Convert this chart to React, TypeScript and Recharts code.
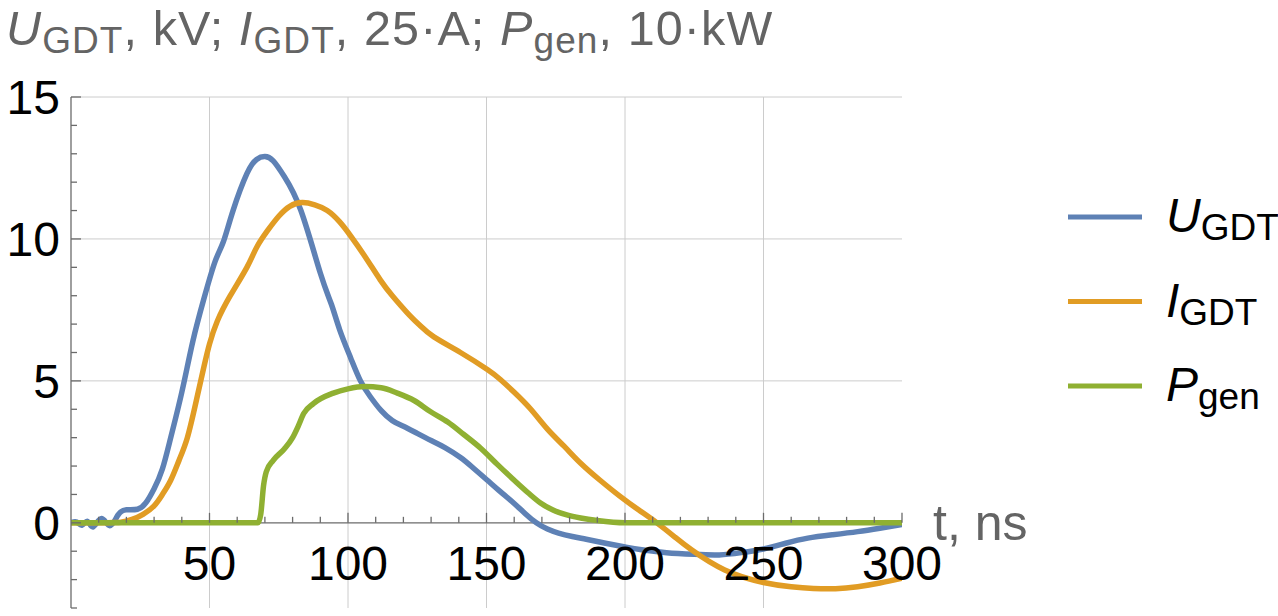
import React from 'react';
import { LineChart, Line, XAxis, YAxis, ReferenceLine } from 'recharts';

// U_GDT, kV
const uTime = [0, 2, 4, 6, 8, 11, 14, 17, 20, 24, 27, 30, 33, 36, 40, 44, 48, 52, 55, 58.5, 63.5, 67, 70, 73, 77, 83, 90, 94, 97, 101, 104.5, 108, 112, 116, 120, 125, 130, 135, 140.6, 145, 150.3, 155, 159.8, 164, 168, 172, 176, 181, 186, 193, 200, 206, 215, 225, 234, 242, 250, 258, 266, 275, 284, 292, 300];
const uValues = [0, 0.03, -0.08, 0.05, -0.14, 0.15, -0.1, 0.28, 0.46, 0.48, 0.7, 1.2, 1.9, 3.0, 4.6, 6.4, 7.9, 9.2, 9.9, 11.0, 12.3, 12.8, 12.9, 12.75, 12.2, 11.0, 8.8, 7.7, 6.8, 5.8, 5.0, 4.45, 3.95, 3.6, 3.4, 3.15, 2.9, 2.65, 2.3, 1.95, 1.5, 1.1, 0.7, 0.32, 0.0, -0.22, -0.36, -0.48, -0.58, -0.72, -0.85, -0.95, -1.05, -1.11, -1.13, -1.05, -0.92, -0.72, -0.54, -0.42, -0.31, -0.19, -0.06];

// I_GDT, 25 A
const iTime = [0, 10, 15, 18, 22, 26, 30, 33, 36, 39, 42, 45, 48, 50, 52.8, 57.5, 63.5, 67, 71, 75, 79, 83.5, 88, 92.5, 97, 101, 106, 111.7, 116, 121.4, 126, 131, 140.6, 150.3, 155, 160, 166, 172, 178, 184, 191, 198, 205, 211.5, 218, 224, 236, 250, 260, 268, 276, 284, 292, 300];
const iValues = [0, 0, 0.01, 0.02, 0.12, 0.3, 0.6, 1.0, 1.5, 2.2, 3.0, 4.2, 5.5, 6.3, 7.1, 8.0, 9.0, 9.7, 10.3, 10.8, 11.15, 11.28, 11.2, 11.0, 10.6, 10.1, 9.4, 8.55, 8.0, 7.4, 6.95, 6.55, 6.0, 5.4, 5.05, 4.6, 4.0, 3.3, 2.7, 2.1, 1.5, 0.95, 0.45, 0, -0.5, -0.95, -1.66, -2.1, -2.25, -2.31, -2.32, -2.25, -2.12, -1.95];

// P_gen, 10 kW
const pTime = [0, 67.5, 68.5, 69.5, 70.5, 73, 77, 80, 82, 84, 87.5, 94.7, 100, 106, 112, 117.8, 124, 129.7, 136, 141.7, 148, 154, 160, 165, 169.5, 174, 179, 184, 190, 200, 300];
const pValues = [0, 0, 0.3, 1.3, 1.8, 2.2, 2.6, 3.0, 3.4, 3.85, 4.2, 4.57, 4.72, 4.8, 4.76, 4.57, 4.3, 3.92, 3.55, 3.12, 2.62, 2.05, 1.5, 1.06, 0.7, 0.45, 0.28, 0.17, 0.08, 0, 0];

const xTicks = [10, 20, 30, 40, 50, 60, 70, 80, 90, 100, 110, 120, 130, 140, 150, 160, 170, 180, 190, 200, 210, 220, 230, 240, 250, 260, 270, 280, 290, 300];
const yTicks = [-3, -2, -1, 0, 1, 2, 3, 4, 5, 6, 7, 8, 9, 10, 11, 12, 13, 14, 15];
const xGrid = [50, 100, 150, 200, 250];
const yGrid = [5, 10, 15];

const series = [
  { key: 'u', main: 'U', sub: 'GDT', color: '#5E81B5', curve: 'natural', t: uTime, v: uValues },
  { key: 'i', main: 'I', sub: 'GDT', color: '#E19C24', curve: 'natural', t: iTime, v: iValues },
  { key: 'p', main: 'P', sub: 'gen', color: '#8FB032', curve: 'monotone', t: pTime, v: pValues },
];

const W = 1278;
const H = 616;
const PLOT_LEFT = 71;
const PLOT_TOP = 97;
const X_AXIS_H = 8;
const PLOT_H = H - PLOT_TOP - X_AXIS_H;
const Y_MIN = -3;
const Y_MAX = 15;
const ZERO_Y = PLOT_TOP + (PLOT_H * Y_MAX) / (Y_MAX - Y_MIN);

const FONT = '"Liberation Sans", Arial, sans-serif';
const AXIS = '#6b6b6b';
const GRID = '#cccccc';
const LABEL_GRAY = '#646464';

const XTick = (props: any) => {
  const { x, payload } = props;
  const major = payload.value % 50 === 0;
  return (
    <g>
      <line x1={x} x2={x} y1={ZERO_Y} y2={ZERO_Y - (major ? 10 : 6)} stroke={AXIS} strokeWidth={1.3} />
      {major && (
        <text x={x} y={ZERO_Y + 57} textAnchor="middle" fontSize={48} fontFamily={FONT} fill="#000">
          {payload.value}
        </text>
      )}
    </g>
  );
};

const YTick = (props: any) => {
  const { y, payload } = props;
  const major = payload.value % 5 === 0;
  const labelled = major && payload.value >= 0;
  return (
    <g>
      <line x1={PLOT_LEFT} x2={PLOT_LEFT + (major ? 10 : 6)} y1={y} y2={y} stroke={AXIS} strokeWidth={1.3} />
      {labelled && (
        <text x={60} y={y} dy={17} textAnchor="end" fontSize={48} fontFamily={FONT} fill="#000">
          {payload.value}
        </text>
      )}
    </g>
  );
};

const App: React.FC = () => {
  return (
    <div style={{ position: 'absolute', left: 0, top: 0, width: W, height: H, background: '#fff' }}>
      <LineChart width={W} height={H} margin={{ top: PLOT_TOP, right: 376, bottom: 0, left: 0 }}>
        <XAxis
          type="number"
          dataKey="t"
          domain={[0, 300]}
          ticks={xTicks}
          height={X_AXIS_H}
          axisLine={false}
          tickLine={false}
          tick={<XTick />}
          allowDataOverflow
          interval={0}
        />
        <YAxis
          type="number"
          domain={[Y_MIN, Y_MAX]}
          ticks={yTicks}
          width={PLOT_LEFT}
          axisLine={{ stroke: AXIS, strokeWidth: 1.3 }}
          tickLine={false}
          tick={<YTick />}
          allowDataOverflow
          interval={0}
        />
        {xGrid.map((g) => (
          <ReferenceLine key={`gx${g}`} x={g} stroke={GRID} strokeWidth={1} />
        ))}
        {yGrid.map((g) => (
          <ReferenceLine key={`gy${g}`} y={g} stroke={GRID} strokeWidth={1} />
        ))}
        <ReferenceLine y={0} stroke={AXIS} strokeWidth={1.3} />
        {series.map((s) => (
          <Line
            key={s.key}
            data={s.t.map((t, i) => ({ t, v: s.v[i] }))}
            dataKey="v"
            type={s.curve as any}
            stroke={s.color}
            strokeWidth={5.5}
            dot={false}
            isAnimationActive={false}
          />
        ))}
      </LineChart>
      <svg
        width={W}
        height={H}
        style={{ position: 'absolute', left: 0, top: 0, pointerEvents: 'none' }}
        fontFamily={FONT}
      >
        <text x={6} y={45} fontSize={48.5} letterSpacing={1.1} fill={LABEL_GRAY} style={{ whiteSpace: 'pre' }}>
          <tspan fontStyle="italic">U</tspan>
          <tspan fontSize={37} dy={8}>GDT</tspan>
          <tspan dy={-8}>, kV; </tspan>
          <tspan fontStyle="italic">I</tspan>
          <tspan fontSize={37} dy={8}>GDT</tspan>
          <tspan dy={-8}>, 25·A; </tspan>
          <tspan fontStyle="italic">P</tspan>
          <tspan fontSize={37} dy={8}>gen</tspan>
          <tspan dy={-8}>, 10·kW</tspan>
        </text>
        <text x={933} y={540} fontSize={50} fill={LABEL_GRAY} style={{ whiteSpace: 'pre' }}>
          t, ns
        </text>
        {series.map((s, i) => {
          const cy = 217 + i * 84.5;
          return (
            <g key={s.key}>
              <line x1={1068} x2={1142} y1={cy} y2={cy} stroke={s.color} strokeWidth={5} />
              <text x={1166} y={cy + 15} fontSize={48} fill="#000">
                <tspan fontStyle="italic">{s.main}</tspan>
                <tspan fontSize={37} dy={8}>{s.sub}</tspan>
              </text>
            </g>
          );
        })}
      </svg>
    </div>
  );
};

export default App;
